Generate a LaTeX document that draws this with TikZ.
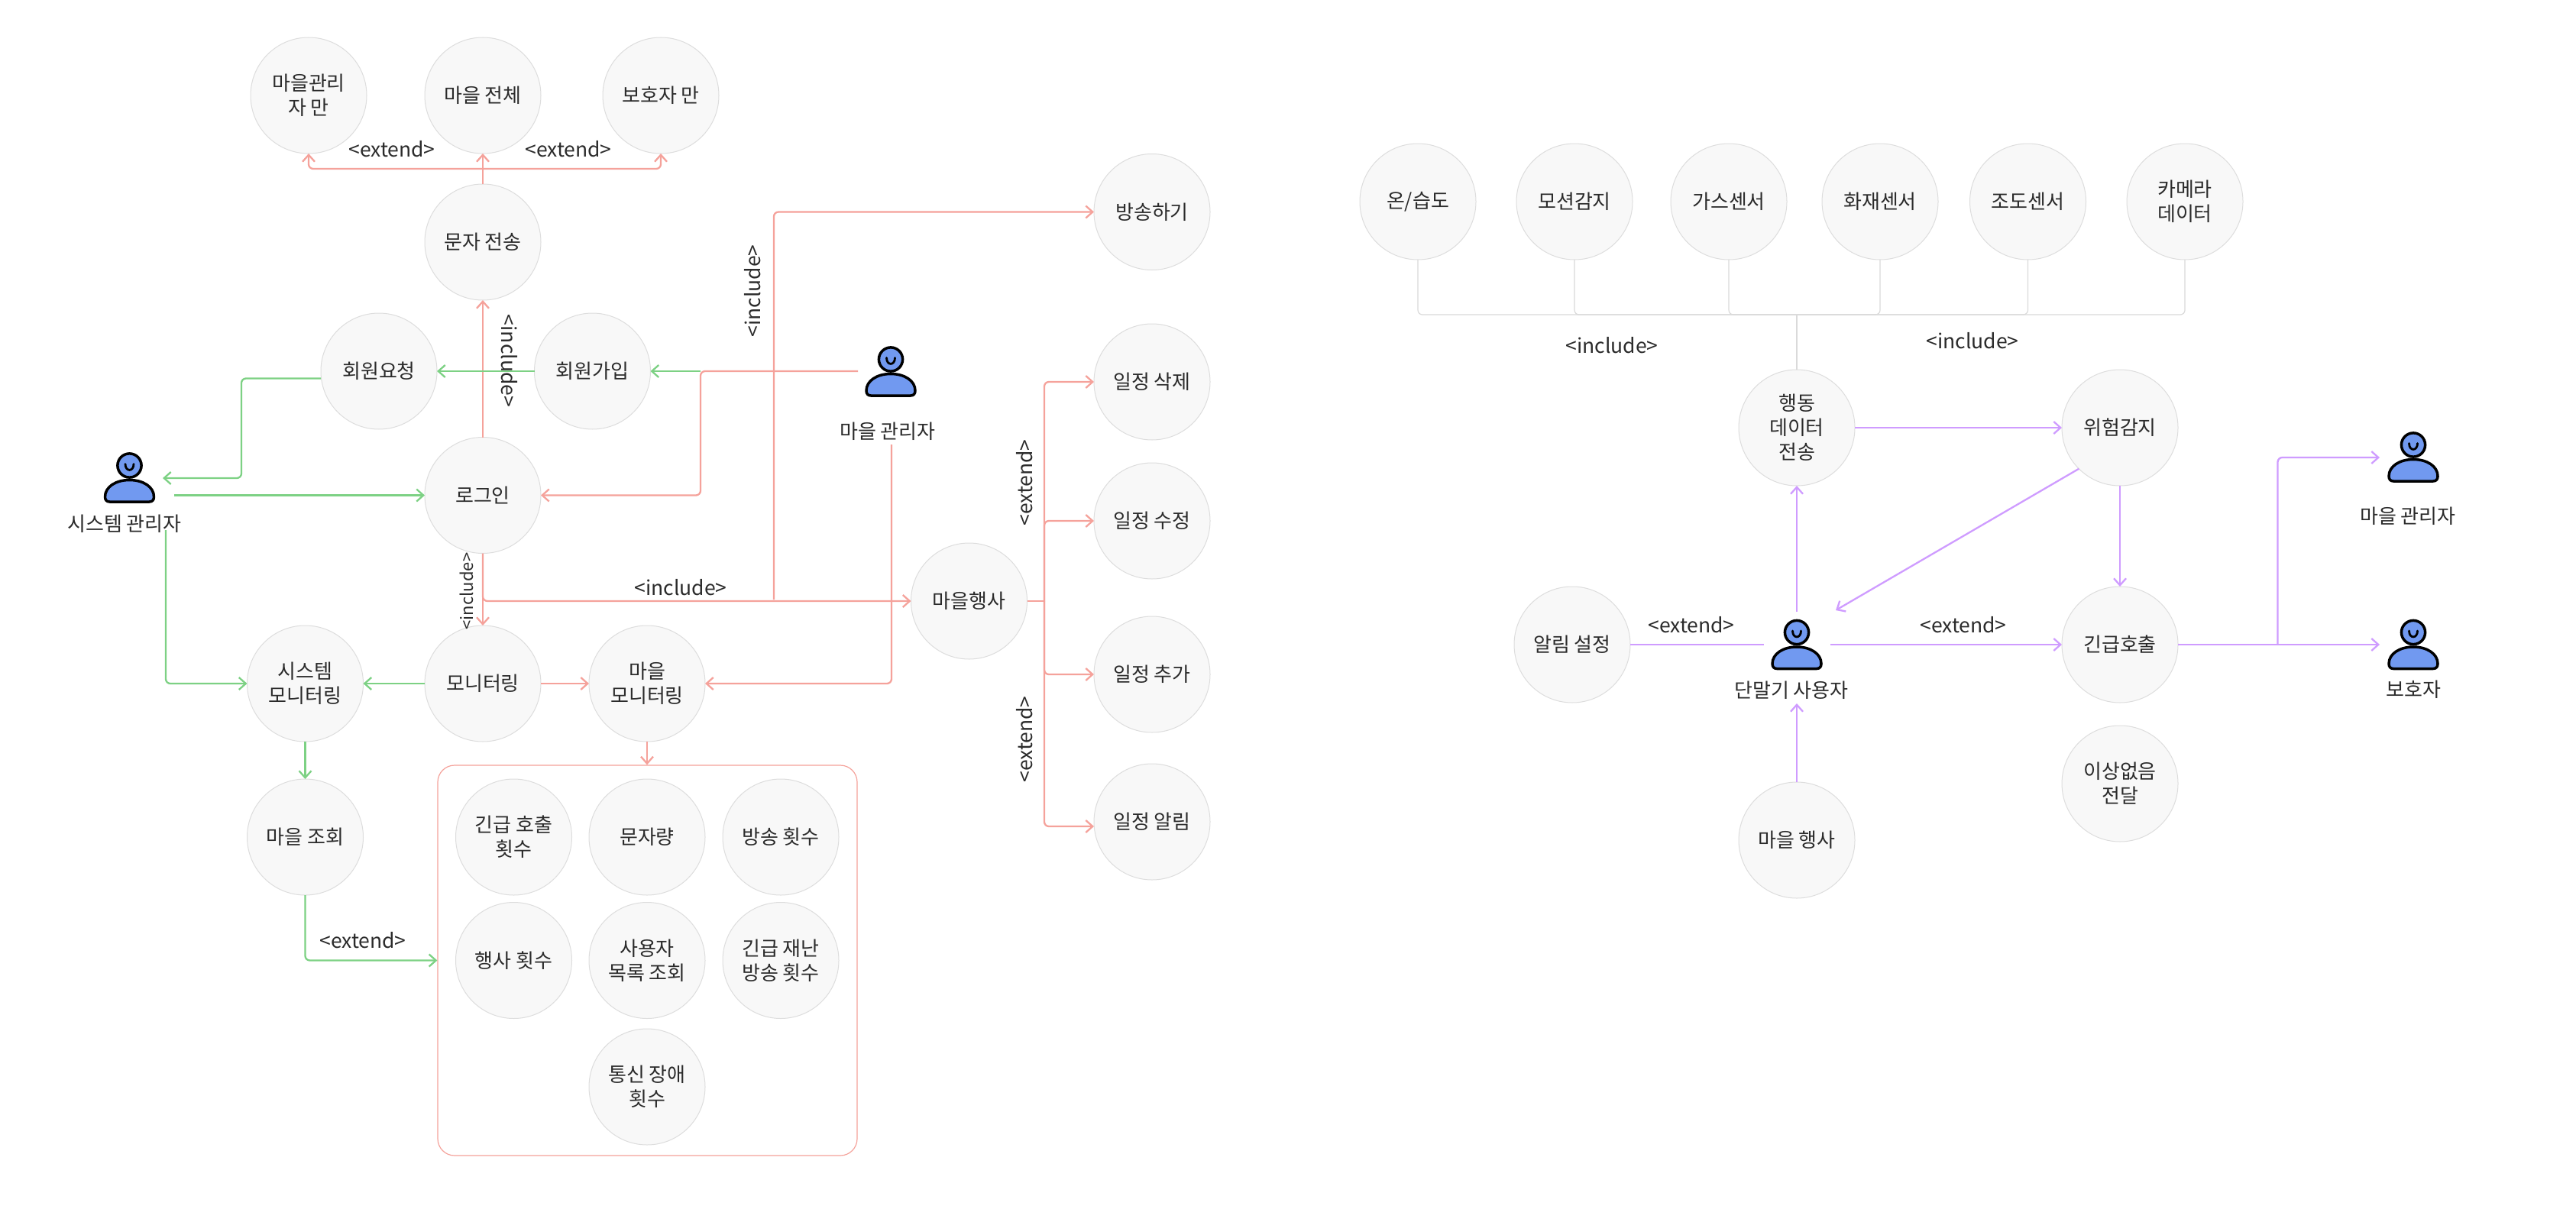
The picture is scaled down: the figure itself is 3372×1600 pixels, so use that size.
\documentclass[tikz,border=0pt]{standalone}
\usepackage{fontspec}
\setmainfont{Noto Sans CJK KR}
\usetikzlibrary{arrows.meta, calc}
\definecolor{REQ}{HTML}{F5A29B}
\definecolor{ADM}{HTML}{7DD184}
\definecolor{TRM}{HTML}{CF9CFF}
\definecolor{SNS}{HTML}{DADADA}
\definecolor{CASE}{HTML}{F8F8F8}
\definecolor{RIM}{HTML}{DDDDDD}
\definecolor{INK}{HTML}{2B2B2B}
\definecolor{BODY}{HTML}{7199F0}
\tikzset{
  CASE/.style={% Style for use case circles
      circle, line width=1pt,
      minimum size=152pt,
      inner sep=0pt, outer sep=0pt,
      align=center,
      text=INK,
      fill=CASE,
      draw=RIM,
      font=\fontsize{26}{32}\selectfont,
  },
  TAG/.style={% Style for stereotype labels
      text=INK,
      inner sep=0pt,
      font=\fontsize{26.5}{32}\selectfont,
  },
  REQ/.style={draw=REQ, line width=2.3pt, rounded corners=6pt, -{Straight Barb[length=9pt,width=16pt]}},
  ADM/.style={draw=ADM, line width=2.3pt, rounded corners=6pt, -{Straight Barb[length=9pt,width=16pt]}},
  TRM/.style={draw=TRM, line width=2.3pt, rounded corners=6pt, -{Straight Barb[length=9pt,width=16pt]}},
  SNS/.style={draw=SNS, line width=1.2pt, rounded corners=6pt},
}
\def\actor(#1)#2[#3]#4{%
  \begin{scope}[shift={(#1)}]
      \node[inner sep=0pt, minimum size=67pt] (#2) at (0,0) {};
      \filldraw[fill=BODY, draw=black, line width=3.5pt, line join=round]
        (-32,25) .. controls (-32,12) and (-18,3) .. (0,3) .. controls (18,3) and (32,12) .. (32,25)
        .. controls (32,29) and (30,31.5) .. (26,31.5) -- (-26,31.5) .. controls (-30,31.5) and (-32,29) .. (-32,25) -- cycle;
      \filldraw[fill=BODY, draw=black, line width=3.5pt] (0,-16) circle (15.6pt);
      \draw[black, line width=2.8pt, line cap=round] (-5.5,-18) .. controls (-5.5,-7.5) and (5.5,-7.5) .. (5.5,-18);
      \node[TAG, font=\fontsize{26}{32}\selectfont] (#2Name) at (#4) {#3};
  \end{scope}
}

\begin{document}
\begin{tikzpicture}[x=1pt, y=-1pt]
    \path[use as bounding box, fill=white] (0,0) rectangle (3372,1600);

    % left diagram
    \node[CASE] (OnlyMgr) at (404,125) {마을관리\\자 만};
    \node[CASE] (AllTown) at (632,125) {마을 전체};
    \node[CASE] (OnlyGrd) at (865,125) {보호자 만};
    \node[CASE] (SendSms) at (632,317) {문자 전송};
    \node[CASE] (JoinReq) at (496,486) {회원요청};
    \node[CASE] (Join) at (775.5,486) {회원가입};
    \node[CASE] (Login) at (632,648.5) {로그인};
    \node[CASE] (SysMon) at (399.5,895) {시스템\\모니터링};
    \node[CASE] (Monitor) at (632,895) {모니터링};
    \node[CASE] (TownMon) at (847,895) {마을\\모니터링};
    \node[CASE] (TownAsk) at (399.5,1096) {마을 조회};
    \node[CASE] (Cast) at (1508,277.5) {방송하기};
    \node[CASE] (Event) at (1268.5,787) {마을행사};
    \foreach \id/\y/\txt in {EvDel/500/일정 삭제, EvMod/682/일정 수정, EvAdd/883/일정 추가, EvAlm/1076/일정 알림}
      \node[CASE] (\id) at (1508,\y) {\txt};

    % statistics group
    \node[draw=REQ, line width=1.2pt, rounded corners=22pt, inner sep=0pt, minimum width=549pt, minimum height=511pt] (Stats) at (847.5,1257.5) {};
    \node[CASE] (CntCall) at (672.5,1096) {긴급 호출\\횟수};
    \node[CASE] (CntSms) at (847,1096) {문자량};
    \node[CASE] (CntCast) at (1022,1096) {방송 횟수};
    \node[CASE] (CntEvent) at (672.5,1257.5) {행사 횟수};
    \node[CASE] (UserList) at (847,1257.5) {사용자\\목록 조회};
    \node[CASE] (CntDisaster) at (1022,1257.5) {긴급 재난\\방송 횟수};
    \node[CASE] (CntFault) at (847,1423) {통신 장애\\횟수};

    \actor(169.5,625.5){SysAdmin}[시스템 관리자]{-6.5,60.5}
    \actor(1166,486.5){TownAdmin}[마을 관리자]{-4,78}

    \coordinate (SmsBus) at (632,221);
    \coordinate (EvBus) at (1367,787);
    \coordinate (MgrOut) at (1123,486);
    \coordinate (MgrTurn) at (917,486);
    \coordinate (MgrDown) at (1167,582);
    \coordinate (CastFoot) at (1013,785);
    \coordinate (SysIn) at (213,626);
    \coordinate (SysOut) at (228,648.5);
    \coordinate (SysDown) at (217,694);

    \draw[REQ] (SendSms.north) -- (AllTown.south);
    \draw[REQ] (SmsBus) -| (OnlyMgr.south);
    \draw[REQ] (SmsBus) -| (OnlyGrd.south);
    \draw[REQ] (Login.north) -- (SendSms.south);
    \draw[REQ] (Login.south) -- (Monitor.north);
    \draw[REQ] (Login.south) |- (Event.west);
    \draw[REQ] (CastFoot) |- (Cast.west);
    \draw[REQ] (MgrOut) -- (MgrTurn) |- (Login.east);
    \draw[REQ] (MgrDown) |- (TownMon.east);
    \draw[REQ] (Monitor.east) -- (TownMon.west);
    \draw[REQ] (TownMon.south) -- (TownMon.south |- Stats.north);
    \draw[REQ, -] (Event.east) -- (EvBus);
    \foreach \id in {EvDel, EvMod, EvAdd}
      \draw[REQ] (EvBus) |- (\id.west);
    \draw[REQ] (EvBus) |- ($(EvAlm.west)+(0,6)$);

    \draw[ADM] (MgrTurn) -- (Join.east);
    \draw[ADM] (Join.west) -- (JoinReq.east);
    \draw[ADM] ($(JoinReq.west)+(0,9.5)$) -- (316,495.5) |- (SysIn);
    \draw[ADM] (SysOut) -- (Login.west);
    \draw[ADM] (SysDown) |- (SysMon.west);
    \draw[ADM] (Monitor.west) -- (SysMon.east);
    \draw[ADM] (SysMon.south) -- (TownAsk.north);
    \draw[ADM] (TownAsk.south) |- (Stats.west);

    \node[TAG] (ExtA) at (513,195) {<extend>};
    \node[TAG] (ExtB) at (744,195) {<extend>};
    \node[TAG, rotate=-90] (IncA) at (667,472.5) {<include>};
    \node[TAG, rotate=90] (IncB) at (985,381) {<include>};
    \node[TAG] (IncC) at (891,769.5) {<include>};
    \node[TAG, rotate=90, font=\fontsize{22}{26}\selectfont] (IncD) at (611,774) {<include>};
    \node[TAG, rotate=90] (ExtC) at (1341,632) {<extend>};
    \node[TAG, rotate=90] (ExtD) at (1341,968) {<extend>};
    \node[TAG] (ExtE) at (475,1231) {<extend>};

    % right diagram
    \foreach \id/\x/\txt in {Temp/1856/{온/습도}, Motion/2061/모션감지, Gas/2263/가스센서, Fire/2461/화재센서, Light/2654.5/조도센서, Camera/2860/카메라\\데이터}
      \node[CASE] (\id) at (\x,264) {\txt};
    \node[CASE] (SendData) at (2352,560) {행동\\데이터\\전송};
    \node[CASE] (Danger) at (2775,560) {위험감지};
    \node[CASE] (AlarmSet) at (2058,844) {알림 설정};
    \node[CASE] (Sos) at (2775,844) {긴급호출};
    \node[CASE] (NoIssue) at (2775,1026) {이상없음\\전달};
    \node[CASE] (TownEv) at (2352,1100) {마을 행사};

    \actor(2352,844){Terminal}[단말기 사용자]{-7,60}
    \actor(3159,598.5){Manager}[마을 관리자]{-7,77}
    \actor(3159,844){Guardian}[보호자]{0,59}

    \coordinate (SnsBus) at (2352,412);
    \coordinate (TermUp) at (2352,801);
    \coordinate (TermBelow) at (2352,921);
    \coordinate (TermLeft) at (2309,844);
    \coordinate (TermRight) at (2396,844);
    \coordinate (TermHit) at (2403,799);
    \coordinate (SosTurn) at (2981.5,844);
    \coordinate (MgrIn) at (3115,599);
    \coordinate (GrdIn) at (3115,844);

    \foreach \id in {Temp, Motion, Gas, Fire, Light, Camera}
      \draw[SNS] (\id.south) |- (SnsBus);
    \draw[SNS] (SendData.north) -- (SnsBus);
    \draw[TRM] (SendData.east) -- (Danger.west);
    \draw[TRM] (TermUp) -- (SendData.south);
    \draw[TRM] (Danger.225) -- (TermHit);
    \draw[TRM] (Danger.south) -- (Sos.north);
    \draw[TRM, -] (AlarmSet.east) -- (TermLeft);
    \draw[TRM] (TermRight) -- (Sos.west);
    \draw[TRM] (TownEv.north) -- (TermBelow);
    \draw[TRM] (Sos.east) -- (GrdIn);
    \draw[TRM] (SosTurn) |- (MgrIn);

    \node[TAG] (IncE) at (2110,452) {<include>};
    \node[TAG] (IncF) at (2582,446) {<include>};
    \node[TAG] (ExtF) at (2214,818) {<extend>};
    \node[TAG] (ExtG) at (2570,818) {<extend>};
\end{tikzpicture}
\end{document}
